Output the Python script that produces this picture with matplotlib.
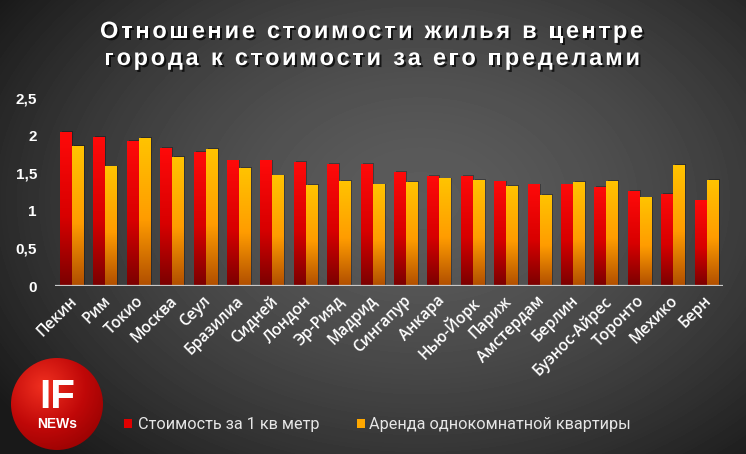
import numpy as np
import matplotlib
matplotlib.use("Agg")
import matplotlib.pyplot as plt
from matplotlib.colors import LinearSegmentedColormap
from matplotlib.font_manager import FontProperties
from matplotlib.patches import Circle, Rectangle
from matplotlib.ticker import FuncFormatter
import matplotlib.patheffects as pe

cities = ["Пекин", "Рим", "Токио", "Москва", "Сеул", "Бразилиа", "Сидней", "Лондон",
          "Эр-Рияд", "Мадрид", "Сингапур", "Анкара", "Нью-Йорк", "Париж", "Амстердам",
          "Берлин", "Буэнос-Айрес", "Торонто", "Мехико", "Берн"]
price_sqm = [2.05, 1.98, 1.93, 1.84, 1.78, 1.67, 1.67, 1.65, 1.62, 1.62,
             1.52, 1.46, 1.46, 1.39, 1.35, 1.35, 1.32, 1.26, 1.23, 1.14]
rent_1room = [1.86, 1.59, 1.97, 1.72, 1.82, 1.57, 1.47, 1.34, 1.40, 1.35,
              1.38, 1.43, 1.41, 1.33, 1.21, 1.38, 1.40, 1.18, 1.61, 1.41]
yticks = [0, 0.5, 1, 1.5, 2, 2.5]

title_lines = ["Отношение стоимости жилья в центре",
               "города к стоимости за его пределами"]
legend_labels = ["Стоимость за 1 кв метр", "Аренда однокомнатной квартиры"]

W, H = 746, 454
fig = plt.figure(figsize=(W / 100, H / 100), dpi=100)

# background layer in pixel coordinates
bg = fig.add_axes([0, 0, 1, 1], zorder=0)
bg.set_xlim(0, W)
bg.set_ylim(H, 0)
bg.axis("off")
yy, xx = np.mgrid[0:H, 0:W]
rr = np.sqrt(((xx - 420) / 470.0) ** 2 + ((yy - 200) / 330.0) ** 2)
shade = np.clip(0.36 - 0.23 * rr ** 1.6, 0.1, 1)
bg.imshow(shade, cmap="gray", vmin=0, vmax=1, extent=(0, W, H, 0), aspect="auto")

red_cmap = LinearSegmentedColormap.from_list(
    "r", [(0, "#7a0000"), (0.45, "#d80000"), (1, "#ff0a0a")])
yel_cmap = LinearSegmentedColormap.from_list(
    "y", [(0, "#b04e00"), (0.45, "#ff9c00"), (1, "#ffc400")])

# main chart
ax = fig.add_axes([55 / W, 1 - 286 / H, 668 / W, 188 / H], zorder=2)
ax.patch.set_alpha(0)
x = np.arange(len(cities))
bw = 0.33
red_bars = ax.bar(x - 0.185, price_sqm, bw, color="none", zorder=3)
yel_bars = ax.bar(x + 0.175, rent_1room, bw, color="none", zorder=3)

grad = np.linspace(0, 1, 256).reshape(-1, 1)
for bars, cmap in ((red_bars, red_cmap), (yel_bars, yel_cmap)):
    for b in bars:
        x0, w, h = b.get_x(), b.get_width(), b.get_height()
        ax.bar(x0 + w / 2 + 0.06, h + 0.01, w, color="black", alpha=0.3,
               linewidth=0, zorder=2)
        im = ax.imshow(grad, cmap=cmap, origin="lower", aspect="auto",
                       extent=(x0, x0 + w, 0, h), zorder=3)
        im.set_clip_path(b)

ax.axhline(0, color="#c8c8c8", lw=1.6, zorder=4)
ax.set_xlim(-0.5, len(cities) - 0.5)
ax.set_ylim(0, 2.5)
ax.set_yticks(yticks)
ax.yaxis.set_major_formatter(FuncFormatter(lambda v, p: f"{v:g}".replace(".", ",")))
for s in ax.spines.values():
    s.set_visible(False)
ax.tick_params(axis="y", length=0, pad=13, colors="white", labelsize=11)
ax.tick_params(axis="x", length=0, pad=5)
for lab in ax.get_yticklabels():
    lab.set_fontfamily("Liberation Sans")
    lab.set_fontweight("bold")
ax.set_xticks(x - 0.08)
ax.set_xticklabels(cities, rotation=45, ha="right", rotation_mode="anchor",
                   color="white", fontsize=11.2, fontfamily="Open Sans",
                   fontweight="semibold")

# title with letter spacing
fp = FontProperties(family=["Liberation Sans Narrow", "Liberation Sans"],
                    weight="bold", size=17)
renderer = fig.canvas.get_renderer()


def spaced_text(s, xl, xr, y):
    widths = [0.0] + [renderer.get_text_width_height_descent(s[:i], fp, ismath=False)[0]
                      for i in range(1, len(s) + 1)]
    gap = (xr - xl - widths[-1]) / (len(s) - 1)
    for i, ch in enumerate(s):
        bg.text(xl + widths[i] + i * gap, y, ch, fontproperties=fp, color="white",
                va="baseline", ha="left",
                path_effects=[pe.withSimplePatchShadow(offset=(1.5, -1.5),
                                                       shadow_rgbFace="black", alpha=0.7)])


spaced_text(title_lines[0], 100, 643, 38)
spaced_text(title_lines[1], 104, 640, 65)

# legend
lx = [124, 357]
tx = [138, 369]
cols = ["#e00000", "#ffa800"]
for i in range(2):
    bg.add_patch(Rectangle((lx[i], 419), 8, 9, facecolor=cols[i], edgecolor="none"))
    bg.text(tx[i], 424, legend_labels[i], color="#e6e6e6", fontsize=11.7,
            fontfamily="Roboto", va="center", ha="left")

# logo
circ = Circle((57, 404), 46, facecolor="none", edgecolor="none")
bg.add_patch(circ)
ly, lx2 = np.mgrid[0:100, 0:100]
lr = np.sqrt((lx2 - 35) ** 2 + (ly - 30) ** 2) / 100.0
logo_cmap = LinearSegmentedColormap.from_list("l", ["#f03020", "#c00808", "#8a0000"])
lim = bg.imshow(lr, cmap=logo_cmap, vmin=0, vmax=0.9, extent=(11, 103, 450, 358),
                aspect="auto", zorder=3)
lim.set_clip_path(circ)
bg.text(57, 408, "IF", color="white", fontsize=29, fontweight="bold",
        fontfamily="Liberation Sans", ha="center", va="baseline", zorder=4)
bg.text(57, 428, "NEWs", color="white", fontsize=10, fontweight="bold",
        fontfamily="Liberation Sans", ha="center", va="baseline", zorder=4)
bg.set_xlim(0, W)
bg.set_ylim(H, 0)

fig.savefig("out.png", dpi=100)
